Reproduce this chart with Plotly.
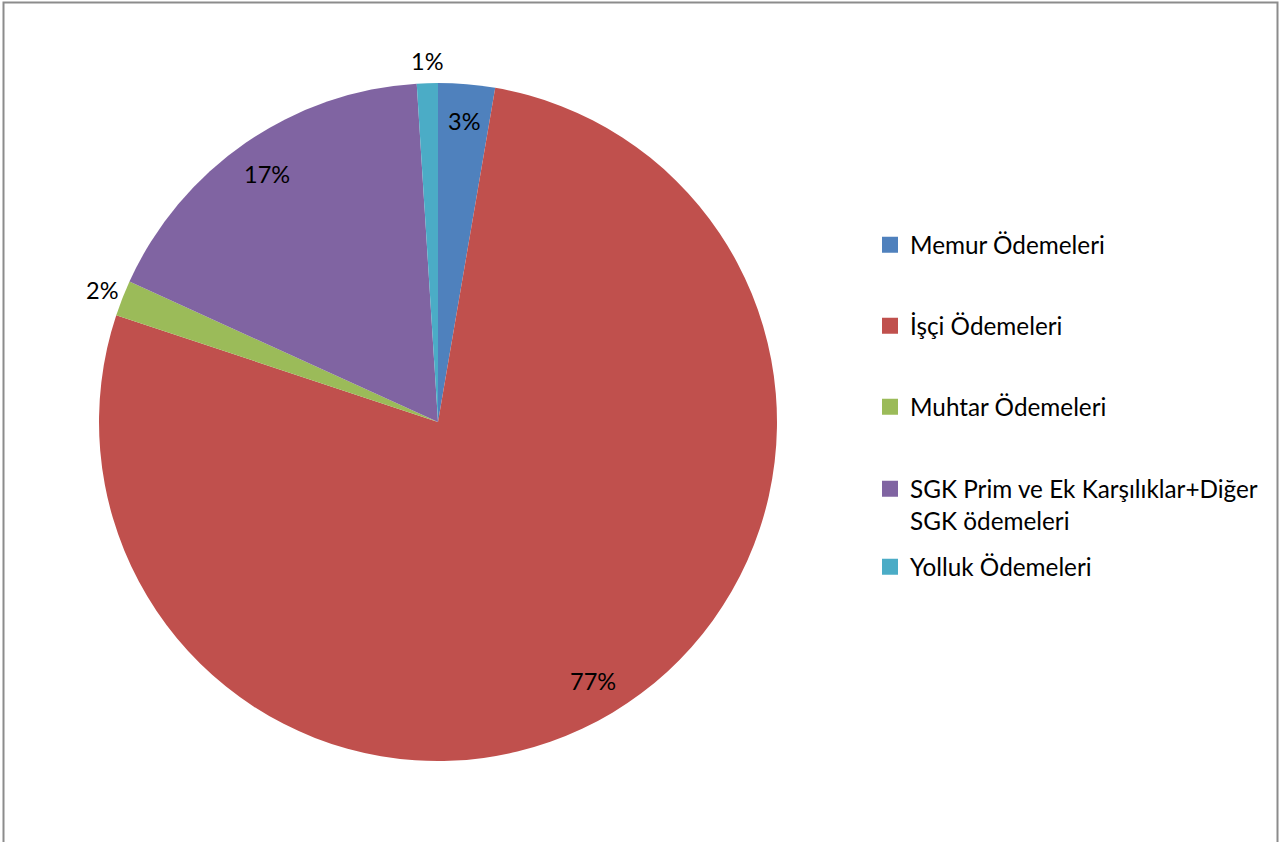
import math
import plotly.graph_objects as go

categories = ["Memur Ödemeleri", "İşçi Ödemeleri", "Muhtar Ödemeleri",
              "SGK Prim ve Ek Karşılıklar+Diğer SGK ödemeleri", "Yolluk Ödemeleri"]
legend_labels = ["Memur Ödemeleri", "İşçi Ödemeleri", "Muhtar Ödemeleri",
                 "SGK Prim ve Ek Karşılıklar+Diğer<br>SGK ödemeleri", "Yolluk Ödemeleri"]
values = [2.7, 77.4, 1.7, 17.2, 1.0]
colors = ["#4F81BD", "#C0504D", "#9BBB59", "#8064A2", "#4BACC6"]
label_inside = [True, True, False, True, False]

W, H = 1282, 842
FONT = "Lato"

# pie geometry (pixels)
CX, CY, R = 438, 422, 339

fig = go.Figure()
fig.add_trace(go.Pie(
    labels=categories, values=values, sort=False, direction="clockwise", rotation=0,
    marker=dict(colors=colors, line=dict(width=0)),
    textinfo="none", showlegend=False, hoverinfo="label+percent",
    domain=dict(x=[(CX - R) / W, (CX + R) / W], y=[1 - (CY + R) / H, 1 - (CY - R) / H]),
))

# percentage labels placed at slice mid-angles derived from the values
total = sum(values)
annotations = []
cum = 0.0
for v, inside in zip(values, label_inside):
    mid = (cum + v / 2) / total * 2 * math.pi
    cum += v
    f = 0.89 if inside else 1.065
    px = CX + R * f * math.sin(mid)
    py = CY - R * f * math.cos(mid)
    annotations.append(dict(
        x=px / W, y=1 - py / H, xref="paper", yref="paper",
        text=f"{round(v / total * 100)}%", showarrow=False,
        xanchor="center", yanchor="middle",
        font=dict(family=FONT, size=23.5, color="black"),
    ))

legend_y = [245, 326, 407, 505, 567]
layout_legends = {}
for i, (name, col, ly) in enumerate(zip(legend_labels, colors, legend_y)):
    key = "legend" if i == 0 else f"legend{i + 1}"
    fig.add_trace(go.Scatter(
        x=[None], y=[None], mode="markers", name=name, legend=key,
        marker=dict(symbol="square", size=16, color=col),
        showlegend=True, hoverinfo="skip",
    ))
    layout_legends[key] = dict(
        x=870 / W, y=1 - ly / H, xanchor="left", yanchor="middle",
        font=dict(family=FONT, size=24.3, color="black"),
        itemsizing="trace", valign="top", bgcolor="rgba(0,0,0,0)",
    )

fig.update_layout(
    width=W, height=H, margin=dict(l=0, r=0, t=0, b=0),
    paper_bgcolor="white", plot_bgcolor="white",
    xaxis=dict(visible=False), yaxis=dict(visible=False),
    annotations=annotations,
    shapes=[dict(type="rect", xref="paper", yref="paper",
                 x0=3.5 / W, x1=1277.5 / W, y0=-0.05, y1=1 - 2.5 / H,
                 line=dict(color="#8c8c8c", width=2), fillcolor="rgba(0,0,0,0)")],
    **layout_legends,
)

fig.write_html("out.html", config={"displayModeBar": False},
               post_script="document.body.style.margin='0';")
